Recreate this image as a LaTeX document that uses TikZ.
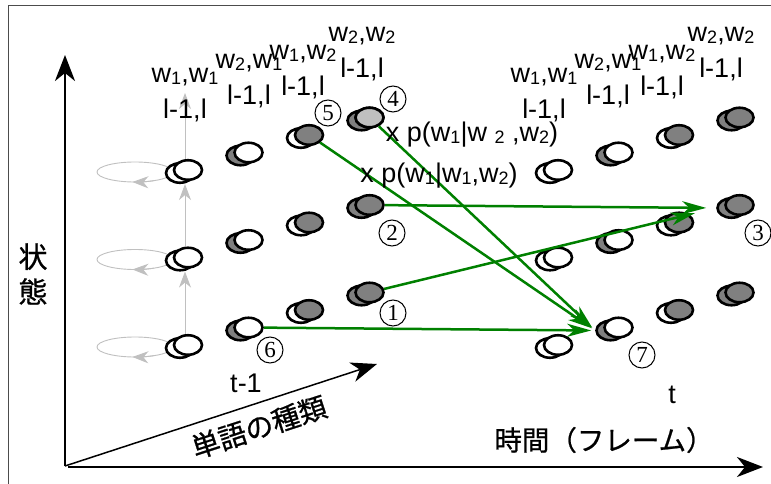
\documentclass[tikz,border=0pt]{standalone}
\usepackage{fontspec}
\setmainfont{Liberation Sans}
\newfontfamily\jpfont[FakeBold=0.8]{Noto Sans CJK JP}
\newfontfamily\numfont{Liberation Serif}
\usetikzlibrary{arrows.meta,shapes.geometric,calc}
\pgfdeclarelayer{back}
\pgfsetlayers{back,main}

\definecolor{arcgreen}{RGB}{0,128,0}
\definecolor{stategray}{RGB}{128,128,128}
\definecolor{palegray}{RGB}{192,192,192}

% small lowered digit for the word indices
\newcommand{\wsub}[1]{\raisebox{-2pt}{\fontsize{18}{18}\selectfont #1}}

\begin{document}
\begin{tikzpicture}
      [x = 1pt, y = -1pt,
      every node/.style = {font = \fontsize{27}{32}\selectfont},
      wstate/.style = {
         ellipse,
         draw,
         line width = 2.6pt,
         minimum width = 28pt,
         minimum height = 19.5pt,
         inner sep = 0pt
      },
      num/.style = {
         circle,
         draw,
         line width = 1pt,
         minimum size = 26pt,
         inner sep = 0pt,
         font = \numfont\fontsize{23}{23}\selectfont
      },
      axis/.style = {line width = 2.5pt, -{Stealth[length=26pt, width=20pt, inset=8pt]}},
      trans/.style = {draw = arcgreen, line width = 2.5pt,
         -{Stealth[length=24pt, width=13pt, inset=7pt]}, shorten > = 4pt},
      loopline/.style = {draw = palegray, line width = 0.9pt},
      uparrow/.style = {loopline, -{Stealth[length=16pt, width=12pt, inset=5pt]}},
      jp/.style = {font = \jpfont\fontsize{29}{35}\selectfont}]

      \useasboundingbox (0, 0) rectangle (771, 484);
      \draw[black!70, line width = 1pt] (8, 484) -- (8, 6) -- (771, 6);

      % states: group (t-1 / t), word pair column, state row
      \foreach \g/\dx in {L/0, R/370} {
         \foreach \c/\bk/\fr in {1/white/white, 2/stategray/white,
                                 3/white/stategray, 4/stategray/stategray} {
            \foreach \r in {1, 2, 3} {
               \pgfmathsetmacro\sx{188 + 60.5*(\c-1) + \dx}
               \pgfmathsetmacro\sy{170 - 17.5*(\c-1) + 87.5*(\r-1)}
               \node[wstate, fill = \bk] (\g-\c-\r-b) at (\sx-8, \sy+3) {};
               \node[wstate, fill = \fr] (\g-\c-\r) at (\sx, \sy) {};
            }
         }
      }
      \node[wstate, fill = palegray] (L-4-1) at (L-4-1.center) {};

      % self loops and upward moves of the first column
      \coordinate (vtop) at (185, 93);
      \begin{pgfonlayer}{back}
         \foreach \r in {1, 2, 3} {
            \draw[loopline] ($(L-1-\r)+(-53, 2)$) ellipse [x radius = 38, y radius = 10];
            \draw[uparrow] ($(L-1-\r)+(-53, 2)$) ++(60:38 and 10)
               arc [start angle = 60, end angle = 94, x radius = 38, y radius = 10];
         }
         \draw[uparrow] ([xshift=-3pt]L-1-3.north) -- ([xshift=5pt]L-1-2-b.south);
         \draw[uparrow] ([xshift=-3pt]L-1-2.north) -- ([xshift=5pt]L-1-1-b.south);
         \draw[uparrow] ([xshift=-3pt]L-1-1.north) -- (vtop);
      \end{pgfonlayer}

      % transitions
      \draw[trans] (L-3-1) -- (R-2-3-b.west);
      \draw[trans] (L-4-1) -- (R-2-3-b.west);
      \draw[trans] (L-2-3) -- (R-2-3-b.west);
      \draw[trans, shorten > = 10pt] (L-4-2) -- (R-4-2-b.west);
      \draw[trans, shorten > = 22pt] (L-4-3) -- (R-4-2-b.west);

      % word pair labels
      \foreach \g/\dx in {L/0, R/359} {
         \node[align = center] (lab-\g-1) at (185+\dx, 95) {w\wsub{1},w\wsub{1}\\[4pt]l-1,l};
         \node[align = center] (lab-\g-2) at (249+\dx, 81) {w\wsub{2},w\wsub{1}\\[4pt]l-1,l};
         \node[align = center] (lab-\g-3) at (303+\dx, 72) {w\wsub{1},w\wsub{2}\\[4pt]l-1,l};
         \node[align = center] (lab-\g-4) at (362+\dx, 54) {w\wsub{2},w\wsub{2}\\[4pt]l-1,l};
      }

      \node (p42) at (472, 135) {x p(w\wsub{1}|w \wsub{2} ,w\wsub{2})};
      \node (p12) at (439, 176) {x p(w\wsub{1}|w\wsub{1},w\wsub{2})};

      % circled numbers
      \node[num] (n1) at (393, 313) {\raisebox{-3pt}{1}};
      \node[num] (n2) at (392, 233) {\raisebox{-3pt}{2}};
      \node[num] (n3) at (758, 233) {\raisebox{-4pt}{3}};
      \node[num] (n4) at (393, 99) {\raisebox{-2pt}{4}};
      \node[num] (n5) at (328, 113) {\raisebox{-4pt}{5}};
      \node[num] (n6) at (270, 350) {\raisebox{-4pt}{6}};
      \node[num] (n7) at (642, 355) {\raisebox{-4pt}{7}};

      % axes
      \coordinate (O) at (65, 466);
      \coordinate (xstart) at (68, 467);
      \draw[axis] (O) -- (65, 55);
      \draw[axis] (xstart) -- (763, 467);
      \draw[axis, line width = 1.5pt] (O) -- (377, 364);

      \node[jp, align = center] (states) at (33, 274) {状\\態};
      \node[jp, rotate = 18, font = \jpfont\fontsize{28}{30}\selectfont] (words) at (259, 427) {単語の種類};
      \node[jp, font = \jpfont\fontsize{27.5}{30}\selectfont] (frames) at (604, 440) {時間（フレーム）};
      \node (tprev) at (246, 383) {t-1};
      \node (tnow) at (672, 395) {t};

   \end{tikzpicture}
\end{document}
